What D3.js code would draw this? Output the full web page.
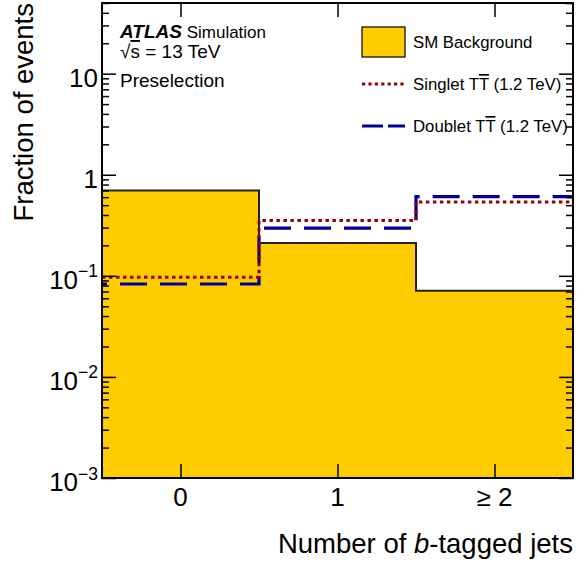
<!DOCTYPE html>
<html>
<head>
<meta charset="utf-8">
<script src="https://cdn.jsdelivr.net/npm/d3@7"></script>
<style>
  html, body { margin: 0; padding: 0; background: #fff; }
  svg { display: block; font-family: "Liberation Sans", Arial, Helvetica, sans-serif; }
</style>
</head>
<body>
<svg id="chart" width="586" height="564"></svg>
<script>
// ---------------- data ----------------
const categories = ["0", "1", "\u2265 2"];
const binCenters = [0, 1, 2];
const binEdges = [-0.5, 0.5, 1.5, 2.5];
const smBackground = [0.70, 0.211, 0.071];
const singletTT = [0.097, 0.352, 0.537];
const doubletTT = [0.083, 0.297, 0.607];
const yMajorTicks = [1e-3, 1e-2, 1e-1, 1, 10];
const yTickLabels = [["10", "\u22123"], ["10", "\u22122"], ["10", "\u22121"], ["1", ""], ["10", ""]];
const legendLabels = ["SM Background", "Singlet", "Doublet"];

// ---------------- layout ----------------
const svg = d3.select("#chart");
const L = 102, R = 573, T = 3, B = 478;
const x = d3.scaleLinear().domain([-0.5, 2.5]).range([L, R]);
const y = d3.scaleLog().domain([1e-3, 50]).range([B, T]);

const yellow = "#FFCC00", red = "#990000", blue = "#000099";

// minor ticks
const yMinorTicks = [];
for (let e = -3; e <= 1; e++) {
  for (let m = 2; m <= 9; m++) {
    const v = m * Math.pow(10, e);
    if (v <= 50) yMinorTicks.push(v);
  }
}

// step data
function stepData(vals) {
  return binEdges.map((e, i) => ({ x: e, v: vals[Math.min(i, vals.length - 1)] }));
}

// background fill
const area = d3.area()
  .x(d => x(d.x)).y0(B).y1(d => y(d.v))
  .curve(d3.curveStepAfter);
svg.append("path")
  .datum(stepData(smBackground))
  .attr("d", area)
  .attr("fill", yellow);

const line = d3.line().x(d => x(d.x)).y(d => y(d.v)).curve(d3.curveStepAfter);

// background outline
svg.append("path")
  .datum(stepData(smBackground))
  .attr("d", line)
  .attr("fill", "none")
  .attr("stroke", "#222")
  .attr("stroke-width", 2);

// doublet
svg.append("path")
  .datum(stepData(doubletTT))
  .attr("d", line)
  .attr("fill", "none")
  .attr("stroke", blue)
  .attr("stroke-width", 3.2)
  .attr("stroke-dasharray", "27,13")
  .attr("stroke-dashoffset", 22);

// singlet
svg.append("path")
  .datum(stepData(singletTT))
  .attr("d", line)
  .attr("fill", "none")
  .attr("stroke", red)
  .attr("stroke-width", 3)
  .attr("stroke-dasharray", "3.5,3.5");

// ---------------- axes ----------------
function styleAxis(g) {
  g.select(".domain").remove();
  g.selectAll(".tick line").attr("stroke", "#000").attr("stroke-width", 1.5);
  g.selectAll(".tick text").remove();
}
// left
svg.append("g").attr("transform", `translate(${L},0)`)
  .call(d3.axisLeft(y).tickValues(yMajorTicks).tickSize(-14).tickFormat(""))
  .call(styleAxis);
svg.append("g").attr("transform", `translate(${L},0)`)
  .call(d3.axisLeft(y).tickValues(yMinorTicks).tickSize(-7).tickFormat(""))
  .call(styleAxis);
// right
svg.append("g").attr("transform", `translate(${R},0)`)
  .call(d3.axisRight(y).tickValues(yMajorTicks).tickSize(-14).tickFormat(""))
  .call(styleAxis);
svg.append("g").attr("transform", `translate(${R},0)`)
  .call(d3.axisRight(y).tickValues(yMinorTicks).tickSize(-7).tickFormat(""))
  .call(styleAxis);
// bottom
svg.append("g").attr("transform", `translate(0,${B})`)
  .call(d3.axisBottom(x).tickValues(binCenters).tickSize(-14).tickFormat(""))
  .call(styleAxis);
// top
svg.append("g").attr("transform", `translate(0,${T})`)
  .call(d3.axisTop(x).tickValues(binCenters).tickSize(-14).tickFormat(""))
  .call(styleAxis);

// frame
svg.append("rect")
  .attr("x", L).attr("y", T).attr("width", R - L).attr("height", B - T)
  .attr("fill", "none").attr("stroke", "#000").attr("stroke-width", 2);

// y tick labels
yMajorTicks.forEach((v, i) => {
  const [base, exp] = yTickLabels[i];
  const t = svg.append("text")
    .attr("x", 98).attr("y", y(v) + 13)
    .attr("text-anchor", "end")
    .attr("font-size", 26);
  t.append("tspan").text(base);
  if (exp) {
    t.append("tspan").attr("font-size", 17.5).attr("dy", -11.5).text(exp);
  }
});

// x tick labels
binCenters.forEach((c, i) => {
  svg.append("text")
    .attr("x", x(c)).attr("y", 506)
    .attr("text-anchor", "middle")
    .attr("font-size", 26)
    .text(categories[i]);
});

// axis titles
const xt = svg.append("text")
  .attr("x", R).attr("y", 553)
  .attr("text-anchor", "end")
  .attr("font-size", 27.5);
xt.append("tspan").text("Number of ");
xt.append("tspan").attr("font-style", "italic").text("b");
xt.append("tspan").text("-tagged jets");

svg.append("text")
  .attr("transform", `translate(33,${T}) rotate(-90)`)
  .attr("text-anchor", "end")
  .attr("font-size", 27.5)
  .text("Fraction of events");

// ATLAS label
const atl = svg.append("text").attr("x", 120).attr("y", 38).attr("font-size", 19);
atl.append("tspan").attr("font-weight", "bold").attr("font-style", "italic").text("ATLAS");
atl.append("tspan").attr("font-size", 17).text(" Simulation");
const rs = svg.append("text").attr("x", 120).attr("y", 58).attr("font-size", 19);
rs.append("tspan").text("\u221A");
rs.append("tspan").style("text-decoration", "overline").text("s");
rs.append("tspan").text(" = 13 TeV");
svg.append("text").attr("x", 120).attr("y", 87).attr("font-size", 19).text("Preselection");

// legend
const lg = svg.append("g");
lg.append("rect").attr("x", 362).attr("y", 27).attr("width", 43).attr("height", 30)
  .attr("fill", yellow).attr("stroke", "#000").attr("stroke-width", 1.2);
lg.append("text").attr("x", 413).attr("y", 48).attr("font-size", 16.8).text(legendLabels[0]);

lg.append("line").attr("x1", 362).attr("x2", 405).attr("y1", 84).attr("y2", 84)
  .attr("stroke", red).attr("stroke-width", 3).attr("stroke-dasharray", "3.2,3.2");
const s1 = lg.append("text").attr("x", 413).attr("y", 90).attr("font-size", 16.8);
s1.append("tspan").text(legendLabels[1] + " T");
s1.append("tspan").style("text-decoration", "overline").text("T");
s1.append("tspan").text(" (1.2 TeV)");

lg.append("line").attr("x1", 362).attr("x2", 405).attr("y1", 126).attr("y2", 126)
  .attr("stroke", blue).attr("stroke-width", 3.2).attr("stroke-dasharray", "21,5");
const s2 = lg.append("text").attr("x", 413).attr("y", 132).attr("font-size", 16.8);
s2.append("tspan").text(legendLabels[2] + " T");
s2.append("tspan").style("text-decoration", "overline").text("T");
s2.append("tspan").text(" (1.2 TeV)");
</script>
</body>
</html>
